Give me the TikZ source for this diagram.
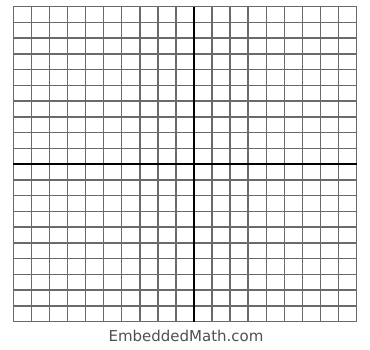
\documentclass[tikz,border=0pt]{standalone}
\usepackage{fontspec}
\newfontfamily\labelfont{DejaVu Sans}
\definecolor{gridgray}{HTML}{6A6A6A}
\definecolor{textgray}{HTML}{505050}
\tikzset{
  gridline/.style={draw=gridgray, line width=1.5pt},
  axisline/.style={draw=black, line width=2.4pt},
  sitelabel/.style={font=\labelfont\fontsize{15}{15}\selectfont, text=textgray, inner sep=0pt}
}
\begin{document}
\begin{tikzpicture}[x=1pt,y=-1pt]
\useasboundingbox (0,0) rectangle (370,349);
% vertical grid lines: 19 columns
\foreach \i in {0,...,19} {
  \draw[gridline] ({13.3+\i*18.07},6.7) -- ({13.3+\i*18.07},321.7);
}
% horizontal grid lines: 20 rows
\foreach \j in {0,...,20} {
  \draw[gridline] (13.3,{6.7+\j*15.75}) -- (356.7,{6.7+\j*15.75});
}
% axes
\coordinate (ytop) at (194.0,6.7);
\coordinate (ybot) at (194.0,321.7);
\coordinate (xleft) at (13.3,164.2);
\coordinate (xright) at (356.7,164.2);
\draw[axisline] (ytop) -- (ybot);
\draw[axisline] (xleft) -- (xright);
\node[sitelabel] (site) at (186,335.5) {EmbeddedMath.com};
\end{tikzpicture}
\end{document}
